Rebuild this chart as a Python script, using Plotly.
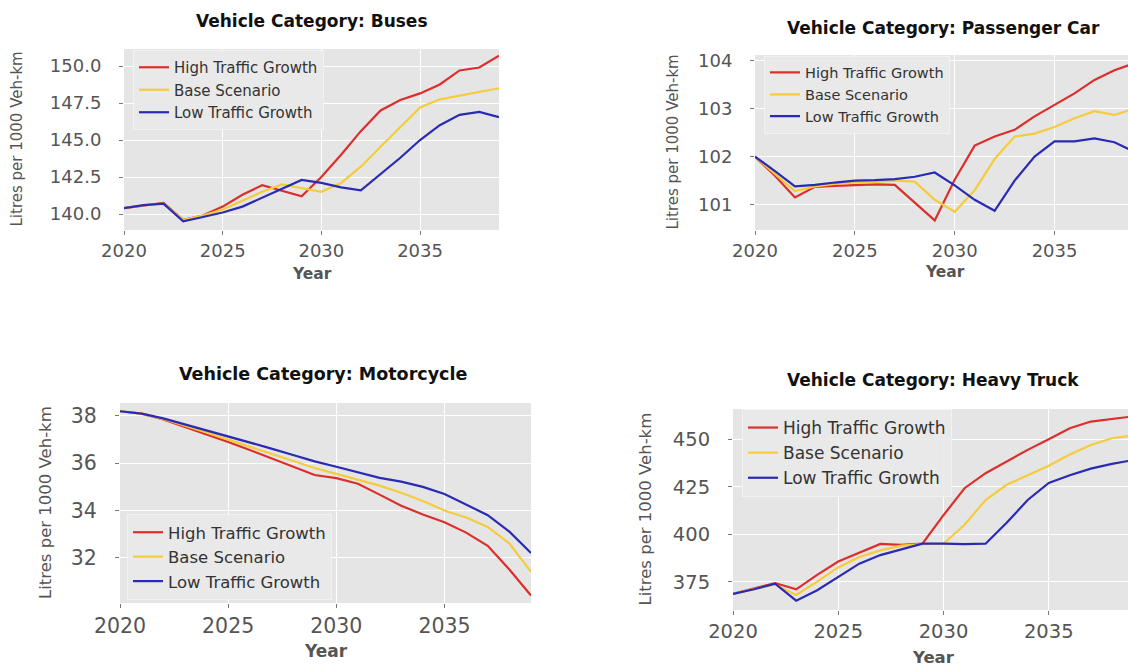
import plotly.graph_objects as go

# Fuel consumption projections (litres per 1000 vehicle-km) by scenario
years = list(range(2020, 2040))
scenarios = ["High Traffic Growth", "Base Scenario", "Low Traffic Growth"]
categories = ["Buses", "Passenger Car", "Motorcycle", "Heavy Truck"]

buses_high = [140.4, 140.6, 140.75, 139.6, 139.9, 140.5, 141.3, 141.95, 141.6, 141.2,
              142.5, 144.0, 145.6, 147.0, 147.7, 148.15, 148.75, 149.7, 149.9, 150.7]
buses_base = [140.4, 140.6, 140.7, 139.6, 139.9, 140.3, 140.9, 141.5, 142.0, 141.75,
              141.5, 142.1, 143.2, 144.55, 145.9, 147.2, 147.75, 148.0, 148.25, 148.5]
buses_low = [140.4, 140.6, 140.7, 139.5, 139.8, 140.1, 140.5, 141.1, 141.7, 142.3,
             142.1, 141.8, 141.6, 142.7, 143.8, 145.0, 146.0, 146.7, 146.9, 146.55]

car_high = [102.0, 101.6, 101.15, 101.37, 101.39, 101.41, 101.42, 101.41, 101.03, 100.67,
            101.52, 102.23, 102.42, 102.56, 102.84, 103.08, 103.32, 103.6, 103.8, 103.95]
car_base = [102.0, 101.65, 101.28, 101.38, 101.43, 101.46, 101.47, 101.5, 101.48, 101.1,
            100.85, 101.3, 101.95, 102.42, 102.48, 102.62, 102.8, 102.95, 102.87, 103.0]
car_low = [102.0, 101.7, 101.38, 101.41, 101.46, 101.5, 101.51, 101.53, 101.58, 101.67,
           101.4, 101.1, 100.87, 101.5, 102.0, 102.32, 102.32, 102.38, 102.3, 102.1]

moto_high = [38.2, 38.1, 37.85, 37.54, 37.23, 36.9, 36.56, 36.2, 35.85, 35.5,
             35.37, 35.13, 34.67, 34.2, 33.83, 33.5, 33.06, 32.5, 31.5, 30.4]
moto_base = [38.2, 38.1, 37.87, 37.6, 37.3, 37.0, 36.7, 36.4, 36.1, 35.8,
             35.55, 35.3, 35.05, 34.75, 34.4, 34.0, 33.7, 33.3, 32.6, 31.4]
moto_low = [38.2, 38.1, 37.9, 37.65, 37.4, 37.15, 36.88, 36.62, 36.35, 36.08,
            35.85, 35.6, 35.38, 35.22, 35.0, 34.7, 34.25, 33.8, 33.1, 32.2]

truck_high = [368.6, 371.4, 374.3, 371.0, 378.6, 385.6, 390.4, 394.9, 394.4, 395.0,
              410.0, 424.2, 432.1, 438.2, 444.4, 450.0, 455.8, 459.3, 460.5, 462.0]
truck_base = [368.6, 371.0, 373.5, 368.0, 375.0, 382.5, 388.0, 391.5, 394.0, 394.8,
              395.0, 405.0, 418.0, 426.0, 431.0, 436.0, 442.0, 447.0, 450.5, 452.0]
truck_low = [368.6, 371.0, 374.0, 365.0, 370.5, 377.5, 384.5, 389.0, 392.0, 395.0,
             395.0, 394.8, 395.0, 406.0, 418.0, 427.0, 431.0, 434.5, 437.0, 439.0]

series = {
    "Buses": [buses_high, buses_base, buses_low],
    "Passenger Car": [car_high, car_base, car_low],
    "Motorcycle": [moto_high, moto_base, moto_low],
    "Heavy Truck": [truck_high, truck_base, truck_low],
}

x_ticks = [2020, 2025, 2030, 2035]
y_ticks = {
    "Buses": [140.0, 142.5, 145.0, 147.5, 150.0],
    "Passenger Car": [101, 102, 103, 104],
    "Motorcycle": [32, 34, 36, 38],
    "Heavy Truck": [375, 400, 425, 450],
}
y_tick_format = {"Buses": ".1f", "Passenger Car": "d", "Motorcycle": "d", "Heavy Truck": "d"}

line_colors = ["#DC2E2B", "#F4CC3C", "#2A2AB4"]

W, H = 1128, 666


def px_x(v):
    return v / W


def px_y(v):
    return 1 - v / H


# Pixel geometry of each panel: plot box, axis ranges, fonts, legend anchor
panels = {
    "Buses": dict(box=(124, 499, 49, 230), xr=(2020, 2039), yr=(138.92, 151.15),
                  tick=18, leg=15, title=17, year=15.5, ylab=15,
                  legxy=(133, 50), title_xy=(312, 21), year_y=274, ylab_x=17),
    "Passenger Car": dict(box=(755, 1128, 55, 230), xr=(2020, 2020 + 373 / 19.97), yr=(100.47, 104.12),
                          tick=18, leg=14.5, title=17, year=15.5, ylab=15,
                          legxy=(764, 55.5), title_xy=(943, 28), year_y=272, ylab_x=672, year_x=945),
    "Motorcycle": dict(box=(120, 531, 403, 603), xr=(2020, 2039), yr=(30.08, 38.55),
                       tick=20.5, leg=16.5, title=17.5, year=17, ylab=16.5,
                       legxy=(127, 514), title_xy=(323, 374), year_y=651, ylab_x=45),
    "Heavy Truck": dict(box=(733, 1128, 409, 610), xr=(2020, 2020 + 395 / 21.05), yr=(360.1, 465.9),
                        tick=19.5, leg=17, title=17, year=16.5, ylab=16.5,
                        legxy=(742, 409), title_xy=(933, 380), year_y=657, ylab_x=645, year_x=933),
}

fig = go.Figure()
layout = dict(
    width=W, height=H, margin=dict(l=0, r=0, t=0, b=0, autoexpand=False),
    paper_bgcolor="white", plot_bgcolor="#E5E5E5",
    font=dict(family="DejaVu Sans", color="#555555"),
    annotations=[], showlegend=True,
)

for i, cat in enumerate(categories):
    p = panels[cat]
    n = "" if i == 0 else str(i + 1)
    leg_name = "legend" + n
    for s, name in enumerate(scenarios):
        fig.add_trace(go.Scatter(
            x=years, y=series[cat][s], name=name, mode="lines",
            line=dict(color=line_colors[s], width=2.2),
            xaxis="x" + n, yaxis="y" + n, legend=leg_name,
        ))
    x0, x1, y0, y1 = p["box"]
    axis_common = dict(
        showgrid=True, gridcolor="white", gridwidth=1.2, zeroline=False, automargin=False,
        showline=False, ticks="outside", ticklen=4, tickwidth=1, tickcolor="#777777",
        tickfont=dict(size=p["tick"], color="#555555"),
    )
    layout["xaxis" + n] = dict(
        domain=[px_x(x0), px_x(x1)], range=list(p["xr"]), anchor="y" + n,
        tickvals=x_ticks, ticklabelstandoff=0, **axis_common,
    )
    layout["yaxis" + n] = dict(
        domain=[px_y(y1), px_y(y0)], range=list(p["yr"]), anchor="x" + n,
        tickvals=y_ticks[cat], tickformat=y_tick_format[cat], ticklabelstandoff=14,
        **axis_common,
    )
    lx, ly = p["legxy"]
    layout[leg_name] = dict(
        x=px_x(lx), y=px_y(ly), xanchor="left", yanchor="top",
        bgcolor="rgba(233,233,233,0.9)", bordercolor="#F2F2F2", borderwidth=1,
        font=dict(size=p["leg"], color="#333333"), itemwidth=30, tracegroupgap=0,
    )
    tx, ty = p["title_xy"]
    layout["annotations"].append(dict(
        text="<b>Vehicle Category: " + cat + "</b>", x=px_x(tx), y=px_y(ty),
        xref="paper", yref="paper", showarrow=False, xanchor="center", yanchor="middle",
        font=dict(size=p["title"], color="#111111"),
    ))
    year_x = p.get("year_x", (x0 + x1) / 2)
    layout["annotations"].append(dict(
        text="<b>Year</b>", x=px_x(year_x), y=px_y(p["year_y"]),
        xref="paper", yref="paper", showarrow=False, xanchor="center", yanchor="middle",
        font=dict(size=p["year"], color="#555555"),
    ))
    layout["annotations"].append(dict(
        text="Litres per 1000 Veh-km", x=px_x(p["ylab_x"]), y=px_y((y0 + y1) / 2),
        xref="paper", yref="paper", showarrow=False, xanchor="center", yanchor="middle",
        textangle=-90, font=dict(size=p["ylab"], color="#555555"),
    ))

fig.update_layout(**layout)
fig.write_html("out.html")
